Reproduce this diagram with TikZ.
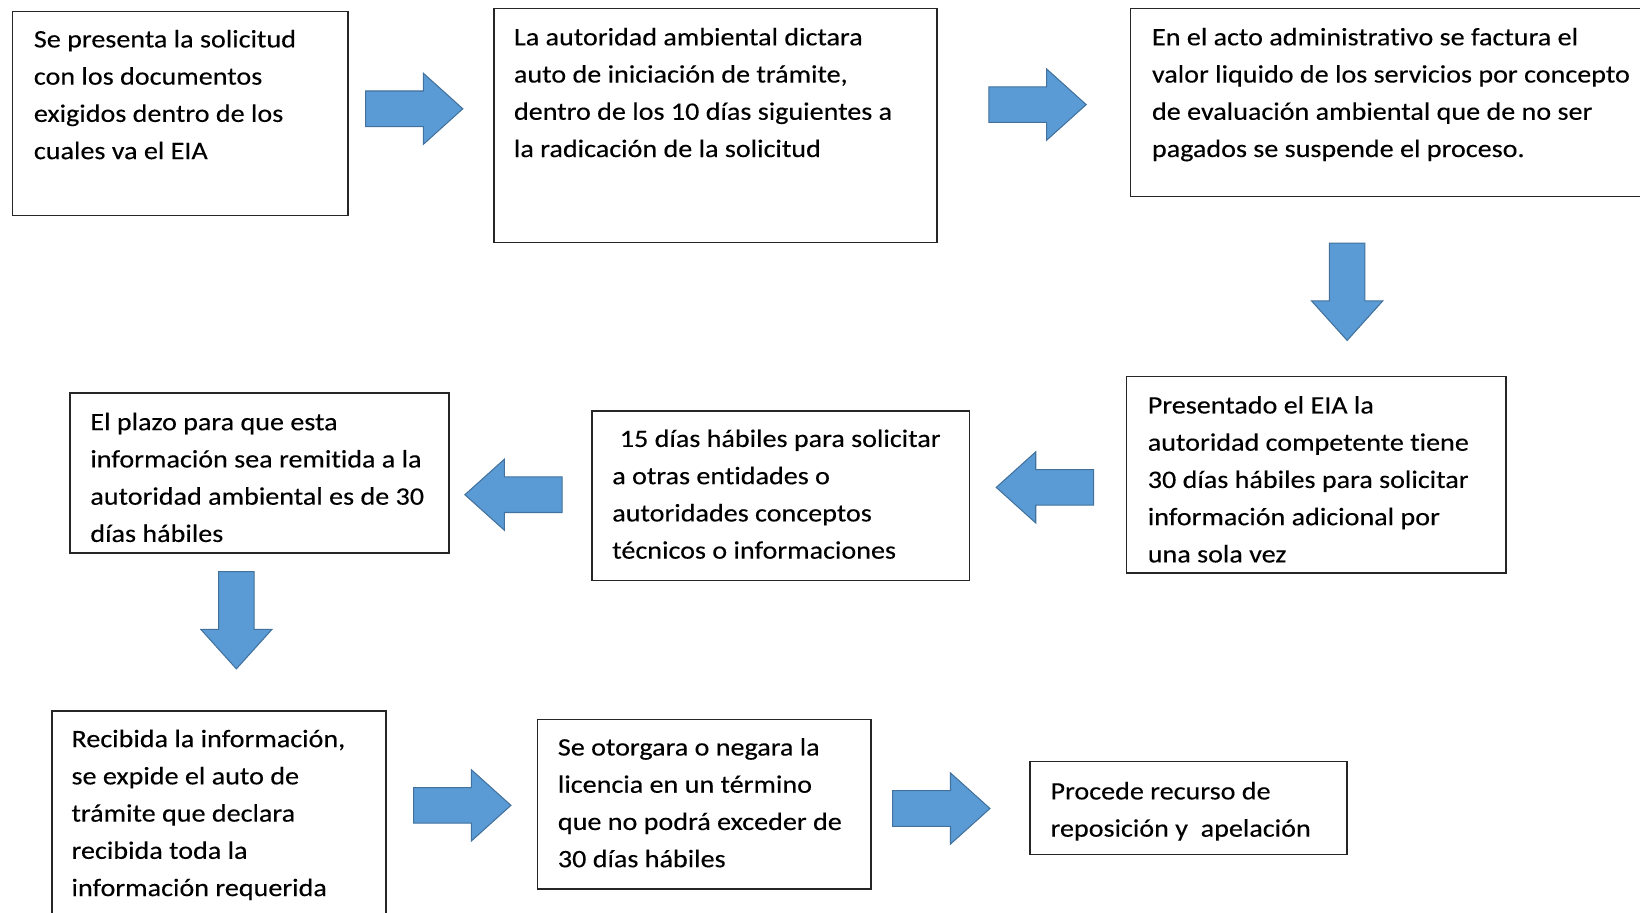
\documentclass[tikz,border=0pt]{standalone}
\usepackage{fontspec}
\setmainfont[FakeStretch=1.12,FakeBold=0.25,Ligatures=NoCommon]{Carlito}
\usetikzlibrary{shapes.arrows,fit}
\definecolor{azulflecha}{HTML}{5B9BD5}
\definecolor{azulborde}{HTML}{41719C}

\begin{document}
\begin{tikzpicture}[x=0.5pt,y=-0.5pt]
\tikzstyle{paso}=[draw=black!85,line width=0.8pt,inner sep=0pt];
\tikzstyle{texto}=[anchor=north west,inner sep=0pt,align=left,font=\fontsize{12}{17.8}\selectfont];
\tikzstyle{flecha}=[single arrow,anchor=tail,fill=azulflecha,draw=azulborde,line width=0.5pt,minimum height=46.5pt,inner xsep=0pt,inner ysep=8.25pt,single arrow head extend=8.5pt,single arrow tip angle=84];
\useasboundingbox (0,0) rectangle (1568,872);
% textos
\path (32,20) node[texto] (t1) {\strut Se presenta la solicitud\\con los documentos\\exigidos dentro de los\\cuales va el EIA};
\path (491,18) node[texto] (t2) {\strut La autoridad ambiental dictara\\auto de iniciación de trámite,\\dentro de los 10 días siguientes a\\la radicación de la solicitud};
\path (1101,18) node[texto] (t3) {\strut En el acto administrativo se factura el\\valor liquido de los servicios por concepto\\de evaluación ambiental que de no ser\\pagados se suspende el proceso.};
\path (1097,370) node[texto] (t4) {\strut Presentado el EIA la\\autoridad competente tiene\\30 días hábiles para solicitar\\información adicional por\\una sola vez};
\path (585,402) node[texto] (t5) {\strut\hspace*{0.3em}15 días hábiles para solicitar\\a otras entidades o\\autoridades conceptos\\técnicos o informaciones};
\path (86,386) node[texto] (t6) {\strut El plazo para que esta\\información sea remitida a la\\autoridad ambiental es de 30\\días hábiles};
\path (68,689) node[texto] (t7) {\strut Recibida la información,\\se expide el auto de\\trámite que declara\\recibida toda la\\información requerida};
\path (533,697) node[texto] (t8) {\strut Se otorgara o negara la\\licencia en un término\\que no podrá exceder de\\30 días hábiles};
\path (1004,739) node[texto] (t9) {\strut Procede recurso de\\reposición y\ \ apelación};
% cajas
\node[paso,fit={(12,11) (333,206)}] (b1) {};
\node[paso,fit={(472,8) (896,232)}] (b2) {};
\node[paso,fit={(1081,8) (1580,188)}] (b3) {};
\node[paso,fit={(1077,360) (1440,548)}] (b4) {};
\node[paso,fit={(566,393) (927,555)}] (b5) {};
\node[paso,fit={(67,376) (429,529)}] (b6) {};
\node[paso,fit={(50,680) (369,890)}] (b7) {};
\node[paso,fit={(514,688) (833,850)}] (b8) {};
\node[paso,fit={(985,728) (1288,817)}] (b9) {};
% flechas
\path (349,104) node[flecha] (f1) {};
\path (945,100) node[flecha] (f2) {};
\path (1288,232) node[flecha,rotate=-90] (f3) {};
\path (1046,466) node[flecha,rotate=180] (f4) {};
\path (538,473) node[flecha,rotate=180] (f5) {};
\path (226,546) node[flecha,rotate=-90] (f6) {};
\path (395,770) node[flecha] (f7) {};
\path (853,773) node[flecha] (f8) {};
\end{tikzpicture}
\end{document}
